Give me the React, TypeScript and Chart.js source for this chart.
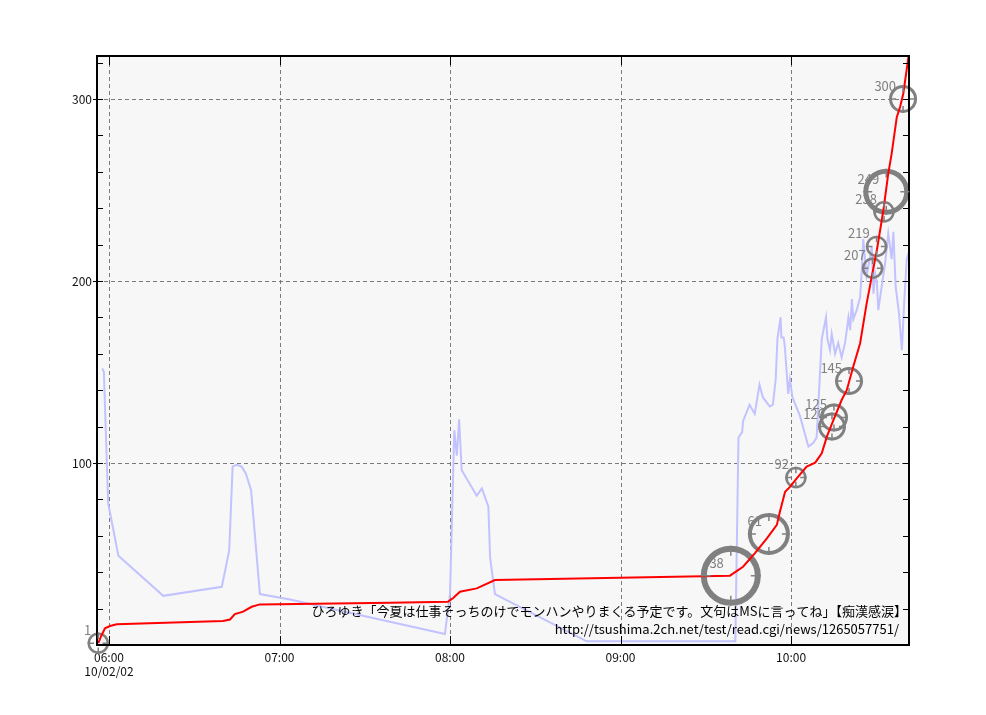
import React, { useEffect, useRef } from 'react';
import { Chart, registerables } from 'chart.js';

Chart.register(...registerables);

const FONT = '"Noto Sans CJK JP", "Noto Sans", sans-serif';

// time axis: minutes after 06:00 on 10/02/02
const startHour = 6;
const dateLabel = '10/02/02';
const hourTicks = [0, 60, 120, 180, 240];
const countTicks = [0, 20, 40, 60, 80, 100, 120, 140, 160, 180, 200, 220, 240, 260, 280, 300, 320];
const countLabels = [100, 200, 300];
const xMin = -4.22;
const xMax = 281.5;
const yMax = 323.6;

// cumulative number of posts (red)
const postTimes = [
  -3.77, -2.57, -1.41, 0.35, 2.71, 40.1, 42.6, 44.3, 47.2, 50.2, 53.1, 98.9, 119.3, 121.1, 123.5,
  129.4, 135.8, 218.5, 223.1, 227.3, 231.5, 235.0, 236.1, 237.9, 239.7, 242.0, 245.5, 248.5, 250.8,
  252.6, 254.9, 257.8, 259.6, 261.9, 264.3, 266.6, 268.4, 270.2, 272.5, 274.2, 275.4, 277.2, 278.4,
  279.5, 281.3,
];
const postCounts = [
  1, 5.5, 9.2, 10.4, 11.4, 13.2, 14, 17, 18.3, 21, 22.3, 23.2, 23.8, 25.8, 29.3,
  31.1, 35.7, 38.1, 43, 50.5, 58.6, 66, 73.3, 84.2, 87, 91.6, 98, 100.2, 105.3,
  114.5, 123.6, 134.6, 140, 153, 165.8, 187.7, 202.4, 217, 239, 259, 270, 290, 295.8,
  303, 323,
];

// posting pace (blue)
const paceTimes = [
  -2.4, -1.8, -0.3, 3.3, 19.1, 39.7, 42.3, 43.5, 44.9, 46.7, 48.2, 50.0, 53.1, 63.7, 118.2, 120.0,
  121.5, 122.4, 123.2, 124.1, 129.4, 131.2, 133.5, 134.1, 135.8, 168.1, 220.4, 221.5, 222.8, 223.1,
  225.4, 227.2, 228.9, 230.1, 232.5, 233.6, 234.6, 235.2, 236.3, 236.6, 237.4, 237.8, 239.0, 239.6,
  240.5, 243.1, 246.1, 247.8, 249.0, 250.8, 252.3, 252.8, 253.7, 254.3, 255.5, 256.6, 257.8, 259.0,
  260.2, 260.8, 261.4, 261.9, 263.1, 264.3, 264.9, 265.4, 265.8, 266.6, 267.8, 268.4, 269.0, 269.6,
  270.2, 270.7, 271.9, 273.1, 274.2, 275.4, 276.0, 276.8, 278.0, 279.0, 279.8, 280.7, 281.5,
];
const paceValues = [
  152, 150, 78, 49, 27, 32, 52, 98, 99, 98, 94, 85, 28, 25, 6, 28,
  118, 104, 124, 96, 82, 86, 76, 48, 28, 2, 2, 114, 117, 123,
  132, 127, 143, 136, 131, 132, 146, 168, 180, 169, 169, 164, 138, 146,
  136, 126, 109, 111, 114, 168, 180, 168, 162, 171, 160, 166, 158, 166,
  180, 173, 190, 179, 184, 191, 206, 223, 216, 203, 213, 219, 193, 204,
  199, 184, 197, 210, 226, 212, 227, 197, 182, 162, 188, 212, 216,
];

// highlighted posts (circles)
const markedPosts = [1, 38, 61, 92, 120, 125, 145, 207, 219, 238, 249, 300];
const markedTimes = [-3.77, 218.8, 232.2, 241.7, 254.4, 255.1, 260.4, 268.7, 270.1, 272.7, 273.5, 279.4];
const markedWeights = [1, 5, 3, 1, 2, 2, 2, 1, 1, 1, 4, 2];

const titleLines = [
  'ひろゆき「今夏は仕事そっちのけでモンハンやりまくる予定です。文句はMSに言ってね」【痴漢感涙】',
  'http://tsushima.2ch.net/test/read.cgi/news/1265057751/',
];

const RADIUS = [0, 9.5, 12.5, 19, 20.5, 27];
const RING = [0, 2.5, 3, 4, 5, 6];
const GRAY = '#808080';

const pad2 = (n: number) => (n < 10 ? '0' + n : String(n));

const decorPlugin = {
  id: 'decor',
  beforeDatasetsDraw(chart: any) {
    const { ctx, chartArea: a, scales } = chart;
    const x = scales.x;
    const y = scales.y;
    ctx.save();
    ctx.fillStyle = '#f7f7f7';
    ctx.fillRect(a.left, a.top, a.right - a.left, a.bottom - a.top);
    ctx.strokeStyle = '#7a7a7a';
    ctx.lineWidth = 1;
    ctx.setLineDash([4, 3]);
    for (const t of x.ticks) {
      const px = Math.round(x.getPixelForValue(t.value)) + 0.5;
      ctx.beginPath();
      ctx.moveTo(px, a.top);
      ctx.lineTo(px, a.bottom);
      ctx.stroke();
    }
    for (const v of countLabels) {
      const py = Math.round(y.getPixelForValue(v)) + 0.5;
      ctx.beginPath();
      ctx.moveTo(a.left, py);
      ctx.lineTo(a.right, py);
      ctx.stroke();
    }
    ctx.restore();
  },
  afterDatasetsDraw(chart: any) {
    const { ctx, chartArea: a, scales } = chart;
    const x = scales.x;
    const y = scales.y;
    ctx.save();
    // frame
    ctx.strokeStyle = '#000';
    ctx.lineWidth = 2;
    ctx.strokeRect(a.left, a.top, a.right - a.left, a.bottom - a.top);
    ctx.lineWidth = 1;
    for (const t of x.ticks) {
      const px = Math.round(x.getPixelForValue(t.value)) + 0.5;
      ctx.beginPath();
      ctx.moveTo(px, a.top);
      ctx.lineTo(px, a.top + 9);
      ctx.moveTo(px, a.bottom);
      ctx.lineTo(px, a.bottom - 9);
      ctx.stroke();
    }
    for (const t of y.ticks) {
      const py = Math.round(y.getPixelForValue(t.value)) + 0.5;
      ctx.beginPath();
      ctx.moveTo(a.left, py);
      ctx.lineTo(a.left + 6, py);
      ctx.moveTo(a.right, py);
      ctx.lineTo(a.right - 6, py);
      if (countLabels.includes(t.value)) {
        ctx.moveTo(a.left, py);
        ctx.lineTo(a.left - 4, py);
      }
      ctx.stroke();
    }

    // circle cross-hairs and labels
    const meta = chart.getDatasetMeta(1);
    ctx.strokeStyle = GRAY;
    ctx.fillStyle = GRAY;
    ctx.lineWidth = 1.5;
    ctx.font = `13px ${FONT}`;
    ctx.textAlign = 'right';
    ctx.textBaseline = 'middle';
    meta.data.forEach((pt: any, i: number) => {
      const w = markedWeights[i];
      const outer = RADIUS[w] + RING[w] / 2;
      const inner = outer - RING[w] - 4;
      const cx = pt.x;
      const cy = pt.y;
      ctx.beginPath();
      ctx.moveTo(cx - outer, cy);
      ctx.lineTo(cx - inner, cy);
      ctx.moveTo(cx + outer, cy);
      ctx.lineTo(cx + inner, cy);
      ctx.moveTo(cx, cy - outer);
      ctx.lineTo(cx, cy - inner);
      ctx.moveTo(cx, cy + outer);
      ctx.lineTo(cx, cy + inner);
      ctx.stroke();
      ctx.fillText(String(markedPosts[i]), cx - 7, cy - 13);
    });

    // thread title
    ctx.fillStyle = '#000';
    ctx.font = `13px ${FONT}`;
    ctx.textAlign = 'right';
    ctx.textBaseline = 'middle';
    ctx.fillText(titleLines[0], a.right - 2, a.bottom - 34);
    ctx.fillText(titleLines[1], a.right - 10, a.bottom - 16);
    ctx.restore();
  },
};

export default function App() {
  const ref = useRef<HTMLCanvasElement>(null);
  useEffect(() => {
    const canvas = ref.current;
    if (!canvas) return;
    const chart = new Chart(canvas, {
      type: 'line',
      data: {
        datasets: [
          {
            label: 'posts',
            data: postTimes.map((t, i) => ({ x: t, y: postCounts[i] })),
            borderColor: '#ff0000',
            borderWidth: 2,
            pointRadius: 0,
            fill: false,
            order: 0,
            clip: false as any,
          },
          {
            label: 'marked',
            data: markedTimes.map((t, i) => ({ x: t, y: markedPosts[i] })),
            showLine: false,
            pointStyle: 'circle',
            pointRadius: (c: any) => RADIUS[markedWeights[c.dataIndex]],
            pointBorderWidth: (c: any) => RING[markedWeights[c.dataIndex]],
            pointBorderColor: GRAY,
            pointBackgroundColor: 'rgba(0,0,0,0)',
            order: 1,
            clip: false as any,
          },
          {
            label: 'pace',
            data: paceTimes.map((t, i) => ({ x: t, y: paceValues[i] })),
            borderColor: '#c2c2ff',
            borderWidth: 2,
            pointRadius: 0,
            fill: false,
            order: 2,
          },
        ],
      },
      options: {
        animation: false,
        responsive: false,
        devicePixelRatio: 1,
        events: [],
        layout: { padding: { left: 0, right: 77, top: 56, bottom: 0 } },
        plugins: { legend: { display: false }, tooltip: { enabled: false } },
        scales: {
          x: {
            type: 'linear',
            min: xMin,
            max: xMax,
            grid: { display: false, drawTicks: false, tickLength: 0 },
            border: { display: false },
            afterBuildTicks: (s: any) => {
              s.ticks = hourTicks.map((v) => ({ value: v }));
            },
            afterFit: (s: any) => {
              s.height = 70;
            },
            ticks: {
              padding: 5,
              color: '#111',
              font: { family: FONT, size: 12, lineHeight: 1.2 },
              maxRotation: 0,
              autoSkip: false,
              callback: (v: any) => {
                const label = `${pad2(startHour + Math.floor(Number(v) / 60))}:${pad2(Number(v) % 60)}`;
                return Number(v) === hourTicks[0] ? [label, dateLabel] : label;
              },
            },
          },
          y: {
            type: 'linear',
            min: 0,
            max: yMax,
            grid: { display: false, drawTicks: false, tickLength: 0 },
            border: { display: false },
            afterBuildTicks: (s: any) => {
              s.ticks = countTicks.map((v) => ({ value: v }));
            },
            afterFit: (s: any) => {
              s.width = 97;
            },
            ticks: {
              padding: 5,
              color: '#111',
              font: { family: FONT, size: 12 },
              autoSkip: false,
              callback: (v: any) => (countLabels.includes(Number(v)) ? String(v) : ''),
            },
          },
        },
      },
      plugins: [decorPlugin],
    } as any);
    return () => chart.destroy();
  }, []);
  return (
    <div style={{ position: 'fixed', left: 0, top: 0, width: 986, height: 715, background: '#fff' }}>
      <canvas ref={ref} width={986} height={715} style={{ display: 'block', width: 986, height: 715 }} />
    </div>
  );
}
